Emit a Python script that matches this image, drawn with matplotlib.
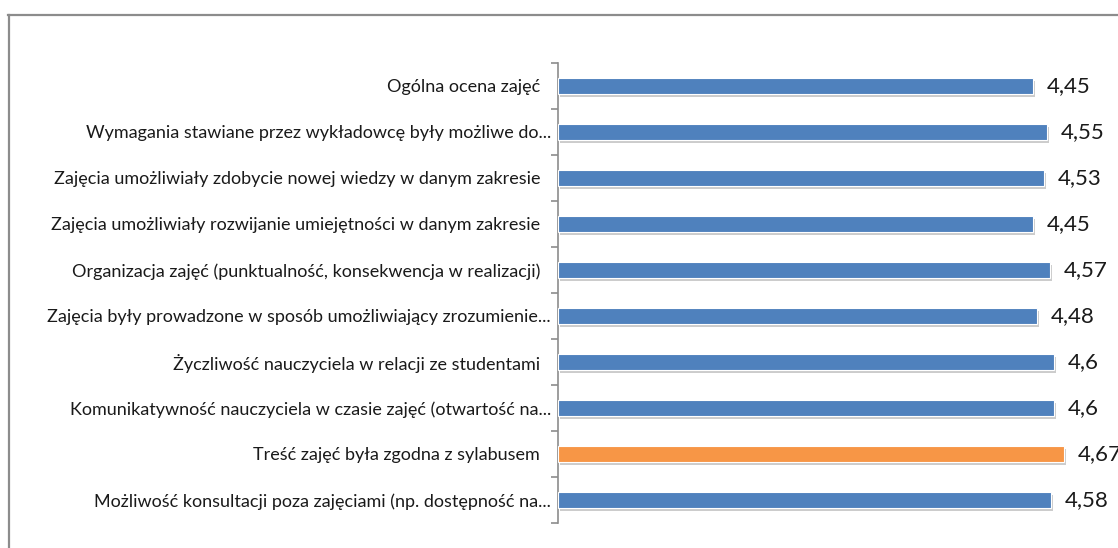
import matplotlib
matplotlib.use("Agg")
import matplotlib.pyplot as plt
from matplotlib.lines import Line2D
import matplotlib.patheffects as pe
import matplotlib.transforms as mtransforms

categories = [
    "Ogólna ocena zajęć",
    "Wymagania stawiane przez wykładowcę były możliwe do...",
    "Zajęcia umożliwiały zdobycie nowej wiedzy w danym zakresie",
    "Zajęcia umożliwiały rozwijanie umiejętności w danym zakresie",
    "Organizacja zajęć (punktualność, konsekwencja w realizacji)",
    "Zajęcia były prowadzone w sposób umożliwiający zrozumienie...",
    "Życzliwość nauczyciela w relacji ze studentami",
    "Komunikatywność nauczyciela w czasie zajęć (otwartość na...",
    "Treść zajęć była zgodna z sylabusem",
    "Możliwość konsultacji poza zajęciami (np. dostępność na...",
]
values = [4.45, 4.55, 4.53, 4.45, 4.57, 4.48, 4.6, 4.6, 4.67, 4.58]
highlight = "Treść zajęć była zgodna z sylabusem"

blue = "#4f81bd"
orange = "#f79646"

plt.rcParams['font.family'] = ['Lato', 'DejaVu Sans']

W, H = 1118, 548
fig = plt.figure(figsize=(W / 100, H / 100), dpi=100)
fig.patch.set_facecolor("white")

# outer frame (top and left visible)
fig.add_artist(Line2D([8 / W, 1.0], [1 - 14.5 / H, 1 - 14.5 / H], transform=fig.transFigure,
                      color="#8c8c8c", lw=1.6))
fig.add_artist(Line2D([8.5 / W, 8.5 / W], [0, 1 - 14.5 / H], transform=fig.transFigure,
                      color="#8c8c8c", lw=1.6))

ax = fig.add_axes([558 / W, 25 / H, 551 / W, 460 / H])
n = len(categories)
ypos = list(range(n))
colors = [orange if c == highlight else blue for c in categories]
bars = ax.barh(ypos, [v - 1 for v in values], left=1, height=0.35, color=colors,
               edgecolor="white", linewidth=0.8, zorder=3)
for b in bars:
    b.set_path_effects([pe.SimplePatchShadow(offset=(1.5, -2), shadow_rgbFace="#9a9a9a", alpha=0.5),
                        pe.Normal()])

ax.set_xlim(1, 5)
ax.set_ylim(n - 0.5, -0.5)

for y, v in zip(ypos, values):
    s = f"{v:g}".replace(".", ",")
    ax.text(v + 0.1, y, s, va="center", ha="left", fontsize=16, color="#1a1a1a",
            clip_on=False)

ax.set_yticks(ypos)
ax.set_yticklabels(categories, fontsize=13, color="#1a1a1a")
ax.tick_params(axis="y", which="major", length=0, pad=5)
for lab in ax.get_yticklabels():
    if not lab.get_text().endswith("..."):
        off = mtransforms.ScaledTranslation(-11 / 100, 0, fig.dpi_scale_trans)
        lab.set_transform(lab.get_transform() + off)
ax.set_yticks([i - 0.5 for i in range(n + 1)], minor=True)
ax.tick_params(axis="y", which="minor", length=5, width=1.2, color="#8c8c8c", direction="out")
ax.set_xticks([])

for s in ["top", "right", "bottom"]:
    ax.spines[s].set_visible(False)
ax.spines["left"].set_color("#8c8c8c")
ax.spines["left"].set_linewidth(1.2)

fig.savefig("out.png", dpi=100, facecolor="white")
